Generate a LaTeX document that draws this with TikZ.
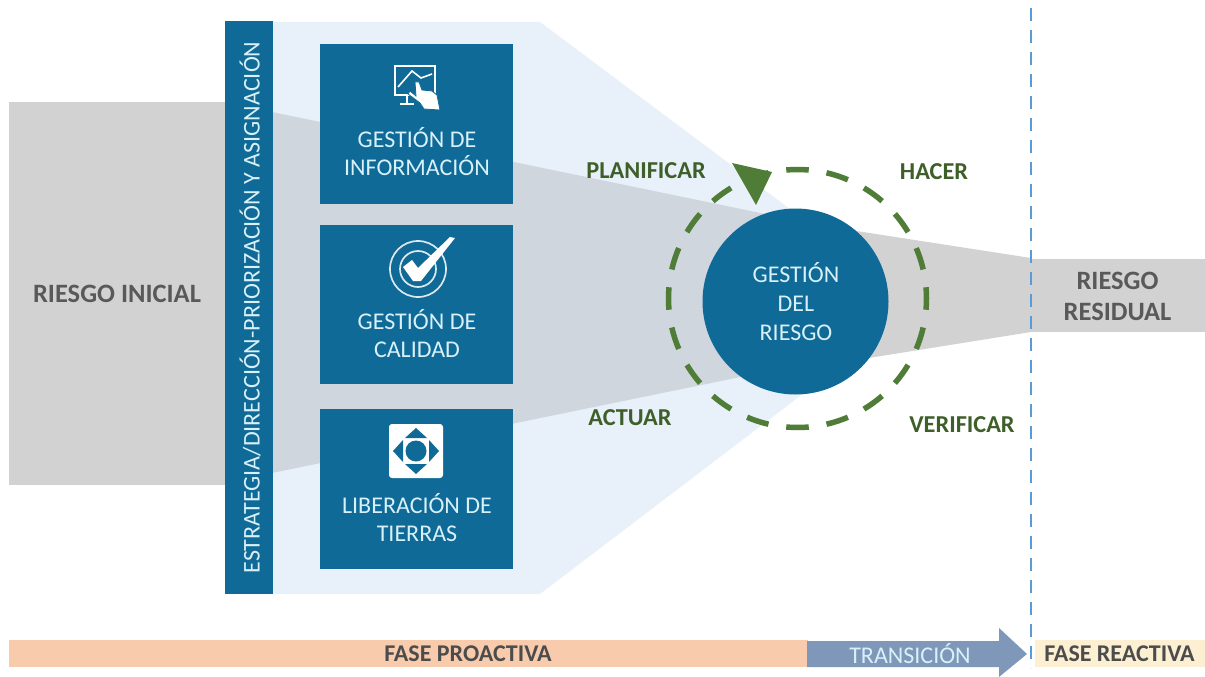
\documentclass[tikz,border=0pt]{standalone}
\usepackage{fontspec}
\usetikzlibrary{calc}
\setmainfont{Carlito}
\definecolor{bluemain}{HTML}{0F6A97}
\definecolor{bluetext}{HTML}{D8F0F8}
\definecolor{funnel}{HTML}{E8F0F9}
\definecolor{graybar}{HTML}{D2D2D2}
\definecolor{graycone}{HTML}{CFD6DE}
\definecolor{graytext}{HTML}{595959}
\definecolor{ringgreen}{HTML}{4F7D37}
\definecolor{labelgreen}{HTML}{3F5F2A}
\definecolor{orangebar}{HTML}{F8CBAD}
\definecolor{transbar}{HTML}{7F98BA}
\definecolor{yellowbar}{HTML}{FDF0D2}
\definecolor{dashblue}{HTML}{5B9BD5}
\tikzset{
  bluebox/.style={fill=bluemain,draw=none,minimum width=193pt,anchor=north west,inner sep=0pt,outer sep=0pt},
  boxtext/.style={text=bluetext,align=center,font=\fontsize{24}{28}\selectfont,inner sep=0pt},
  graylabel/.style={text=graytext,align=center,font=\bfseries\fontsize{26.5}{31}\selectfont,inner sep=0pt},
  pdca/.style={text=labelgreen,font=\bfseries\fontsize{24.3}{28}\selectfont,inner sep=0pt},
  barlabel/.style={font=\bfseries\fontsize{24}{28}\selectfont,inner sep=0pt},
  iconline/.style={draw=white,line width=1.6pt,fill=none},
}
\begin{document}
\begin{tikzpicture}[x=1pt,y=-1pt]
\useasboundingbox (0,0) rectangle (1205,677);
\fill[white] (0,0) rectangle (1205,677);
% funnel
\fill[funnel] (272,22) -- (540,22) -- (790,209) -- (800,396) -- (540,594) -- (272,594) -- cycle;
% grey flows
\fill[graybar] (9,102) -- (230,102) -- (230,485) -- (9,485) -- cycle;
\fill[graycone] (272,112) -- (770,215) -- (760,373) -- (272,473) -- cycle;
\fill[graybar] (850,230) -- (1031,258) -- (1031,332) -- (850,361) -- cycle;
\fill[graybar] (1031,259) rectangle (1205,332);
% band
\node[fill=bluemain,minimum width=48pt,minimum height=573pt,inner sep=0pt,outer sep=0pt] (band) at (249,307.5) {};
\node[rotate=90,text=bluetext,font=\fontsize{24}{28}\selectfont,inner sep=0pt] (bandtext) at (250,307.5) {ESTRATEGIA/DIRECCIÓN-PRIORIZACIÓN Y ASIGNACIÓN};
% boxes
\node[bluebox,minimum height=160pt] (b1) at (320,44) {};
\node[bluebox,minimum height=159pt] (b2) at (320,225) {};
\node[bluebox,minimum height=160pt] (b3) at (320,409) {};
\node[boxtext] (t1) at (417,151.5) {GESTIÓN DE\\INFORMACIÓN};
\node[boxtext] (t2) at (417,333.5) {GESTIÓN DE\\CALIDAD};
\node[boxtext] (t3) at (417,517.5) {LIBERACIÓN DE\\TIERRAS};
% icon 1: monitor and hand
\draw[iconline,line width=2.4pt] (395,66) rectangle (435,95);
\draw[iconline,line width=2.4pt] (407,96) -- (407,103) (400,104) -- (414,104);
\draw[iconline,line width=1.6pt] (398,87) -- (412,71) -- (421,78) -- (432,74);
\fill[white,draw=bluemain,line width=0.8pt] (415,82) -- (419,82) -- (422,90) -- (432,91) -- (437,95) -- (440,110) -- (424,109) -- (420,103) -- (408,94) -- (410,91) -- (416,96) -- cycle;
% icon 2: check
\draw[white!85!bluemain,line width=1.7pt] (418,269) circle (28);
\draw[white!85!bluemain,line width=1.7pt] (418,269) circle (18);
\fill[white] (403,267) -- (412,260) -- (418,268) -- (450,237) -- (455,238) -- (421,281) -- (413,281) -- cycle;
% icon 3: arrows pad
\fill[white,rounded corners=3pt] (389,424) rectangle (443,478);
\fill[bluemain] (416,428) -- (427,438) -- (405,438) -- cycle;
\fill[bluemain] (416,474) -- (427,464) -- (405,464) -- cycle;
\fill[bluemain] (393,451) -- (403,440) -- (403,462) -- cycle;
\fill[bluemain] (439,451) -- (429,440) -- (429,462) -- cycle;
\fill[bluemain] (416,451) circle (10.5);
% central circle
\node[circle,fill=bluemain,minimum size=186pt,inner sep=0pt,outer sep=0pt] (gr) at (795.5,301.5) {};
\node[boxtext,font=\fontsize{24}{29}\selectfont] (grt) at (796,301.5) {GESTIÓN\\DEL\\RIESGO};
% ring
\coordinate (rc) at (797.5,298.5);
\foreach \a in {0,18,...,342}{
  \draw[ringgreen,line width=5.5pt] ($(rc)+(\a-5:129)$) arc[start angle=\a-5,end angle=\a+5,radius=129];
}
\fill[ringgreen] (732,163) -- (772,172) -- (756,205) -- cycle;
% labels
\node[graylabel] (ri) at (117,294) {RIESGO INICIAL};
\node[graylabel] (rr) at (1117.5,296) {RIESGO\\RESIDUAL};
\node[pdca] (pl) at (646,171) {PLANIFICAR};
\node[pdca] (ha) at (934,172) {HACER};
\node[pdca] (ac) at (630,418) {ACTUAR};
\node[pdca] (ve) at (962,425) {VERIFICAR};
% phase bars
\fill[orangebar] (9,640) rectangle (808,667);
\fill[transbar] (807,641) -- (999,641) -- (999,628) -- (1027,654) -- (999,677) -- (999,667) -- (807,667) -- cycle;
\fill[yellowbar] (1035,640) rectangle (1205,667);
\node[barlabel,text=graytext!85!black] (fp) at (468,654) {FASE PROACTIVA};
\node[text=bluetext,font=\fontsize{24}{28}\selectfont,inner sep=0pt] (tr) at (910,654) {TRANSICIÓN};
\node[barlabel,text=graytext!85!black] (fr) at (1119.5,654) {FASE REACTIVA};
% divider
\coordinate (d1) at (1031,8);
\coordinate (d2) at (1031,668);
\draw[dashblue,line width=2.8pt,dash pattern=on 13pt off 9pt] (d1) -- (d2);
\end{tikzpicture}
\end{document}
